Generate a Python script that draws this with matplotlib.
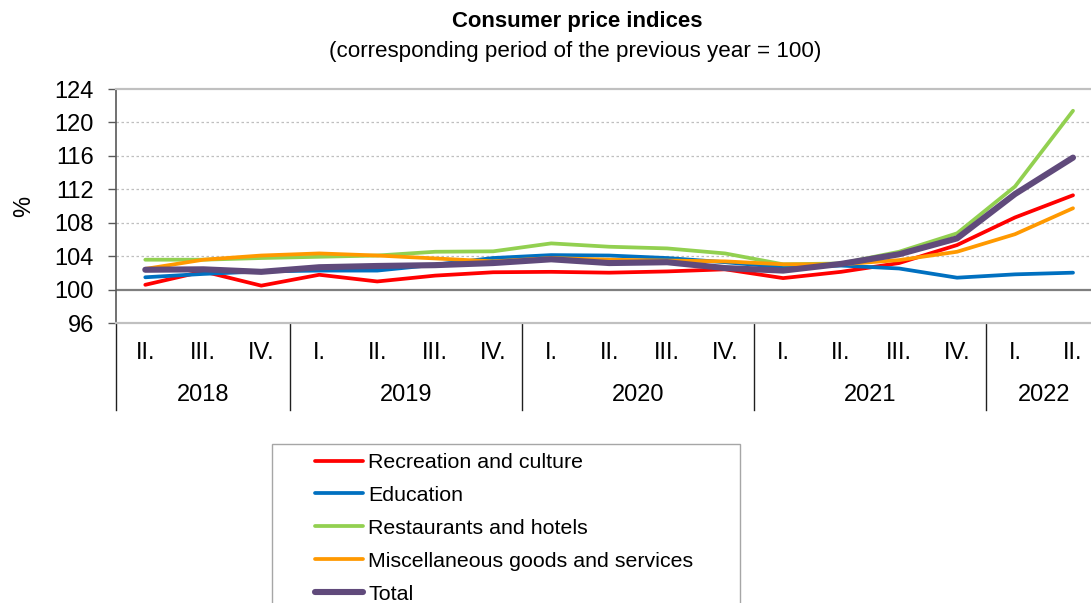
import numpy as np
import matplotlib
matplotlib.use("Agg")
import matplotlib.pyplot as plt
import matplotlib.transforms as mtransforms
from matplotlib.patches import Rectangle

plt.rcParams["font.family"] = ["Liberation Sans", "DejaVu Sans"]

# ---------------------------------------------------------------------------
# Data
# ---------------------------------------------------------------------------
quarters = ["II.", "III.", "IV.",
            "I.", "II.", "III.", "IV.",
            "I.", "II.", "III.", "IV.",
            "I.", "II.", "III.", "IV.",
            "I.", "II."]
years = ["2018", "2019", "2020", "2021", "2022"]
year_counts = [3, 4, 4, 4, 2]

recreation = [100.6, 102.2, 100.5, 101.8, 101.0, 101.7, 102.1, 102.15, 102.05,
              102.2, 102.45, 101.4, 102.15, 103.2, 105.35, 108.65, 111.3]
education = [101.5, 101.9, 102.2, 102.3, 102.3, 103.0, 103.8, 104.15, 104.1,
             103.8, 103.3, 102.7, 102.9, 102.55, 101.45, 101.85, 102.05]
restaurants = [103.6, 103.6, 103.8, 103.95, 104.1, 104.55, 104.6, 105.55, 105.15,
               104.95, 104.35, 103.05, 103.15, 104.55, 106.75, 112.35, 121.4]
misc = [102.5, 103.6, 104.1, 104.35, 104.1, 103.75, 103.4, 103.8, 103.6,
        103.5, 103.4, 103.05, 103.05, 103.55, 104.55, 106.65, 109.75]
total = [102.4, 102.45, 102.15, 102.7, 102.85, 102.95, 103.2, 103.65, 103.2,
         103.3, 102.6, 102.3, 103.1, 104.25, 106.15, 111.45, 115.8]

series = [
    ("Recreation and culture", recreation, "#FF0000", 2.7),
    ("Education", education, "#0070C0", 2.7),
    ("Restaurants and hotels", restaurants, "#92D050", 2.7),
    ("Miscellaneous goods and services", misc, "#FF9900", 2.7),
    ("Total", total, "#604A7B", 4.4),
]

W, H = 1091, 603
fig = plt.figure(figsize=(W / 100, H / 100), dpi=100)

# axes extends slightly past the right edge, as in the reference
ax_left, ax_right, ax_top, ax_bottom = 116.3, 1102.0, 89.0, 323.3
ax = fig.add_axes([ax_left / W, 1 - ax_bottom / H,
                   (ax_right - ax_left) / W, (ax_bottom - ax_top) / H])

x = np.arange(len(quarters))
handles = []
for label, vals, color, lw in series:
    (h,) = ax.plot(x, vals, color=color, lw=lw, label=label,
                   solid_capstyle="round", solid_joinstyle="round", zorder=3)
    handles.append(h)

ax.set_xlim(-0.5, len(quarters) - 0.5)
ax.set_ylim(96, 124)
ax.set_yticks(np.arange(96, 125, 4))
ax.tick_params(axis="y", direction="out", length=6, width=1, color="#595959",
               labelsize=17, pad=10)
ax.set_xticks([])

# grid: dotted light gray, solid borders at 96 / 124, dark line at 100
for yv in range(104, 124, 4):
    ax.axhline(yv, color="#BFBFBF", lw=0.9, ls=(0, (2, 2)), zorder=1)
ax.axhline(100, color="#7F7F7F", lw=1.6, zorder=2)
for side in ("top", "bottom"):
    ax.spines[side].set_color("#C0C0C0")
    ax.spines[side].set_linewidth(1.6)
ax.spines["right"].set_visible(False)
ax.spines["left"].set_color("#595959")
ax.spines["left"].set_linewidth(1.2)

ax.set_ylabel("%", fontsize=17, labelpad=14)

# two-level category axis
trans = mtransforms.blended_transform_factory(ax.transData, ax.transAxes)
y_q = (ax_bottom - 353) / (ax_bottom - ax_top)
y_y = (ax_bottom - 395) / (ax_bottom - ax_top)
y_sep = (ax_bottom - 410) / (ax_bottom - ax_top)
for i, q in enumerate(quarters):
    ax.text(i, y_q, q, transform=trans, ha="center", va="center",
            fontsize=17, clip_on=False)
start = -0.5
bounds = [start]
for yr, n in zip(years, year_counts):
    ax.text(start + n / 2, y_y, yr, transform=trans, ha="center", va="center",
            fontsize=17, clip_on=False)
    start += n
    bounds.append(start)
for b in bounds[:-1]:
    ax.plot([b, b], [0, y_sep], transform=trans, color="#202020", lw=1.0,
            clip_on=False)

# titles
fig.text(577 / W, 1 - 22 / H, "Consumer price indices", ha="center",
         va="center", fontsize=15.9, fontweight="bold")
fig.text(575 / W, 1 - 52 / H, "(corresponding period of the previous year = 100)",
         ha="center", va="center", fontsize=16.1)

# legend: frame drawn separately, runs off the bottom edge
fig.patches.append(Rectangle((272 / W, -0.1), (740 - 272) / W, 1 - 444 / H + 0.1,
                             transform=fig.transFigure, fill=False,
                             edgecolor="#A6A6A6", lw=1.0))
fig.legend(handles=handles, loc="upper left",
           bbox_to_anchor=(315 / W, 1 - 453 / H), frameon=False,
           fontsize=15.4, handlelength=2.25, handletextpad=0.25,
           borderpad=0, borderaxespad=0, labelspacing=0.65)

fig.savefig("out.png", dpi=100)
